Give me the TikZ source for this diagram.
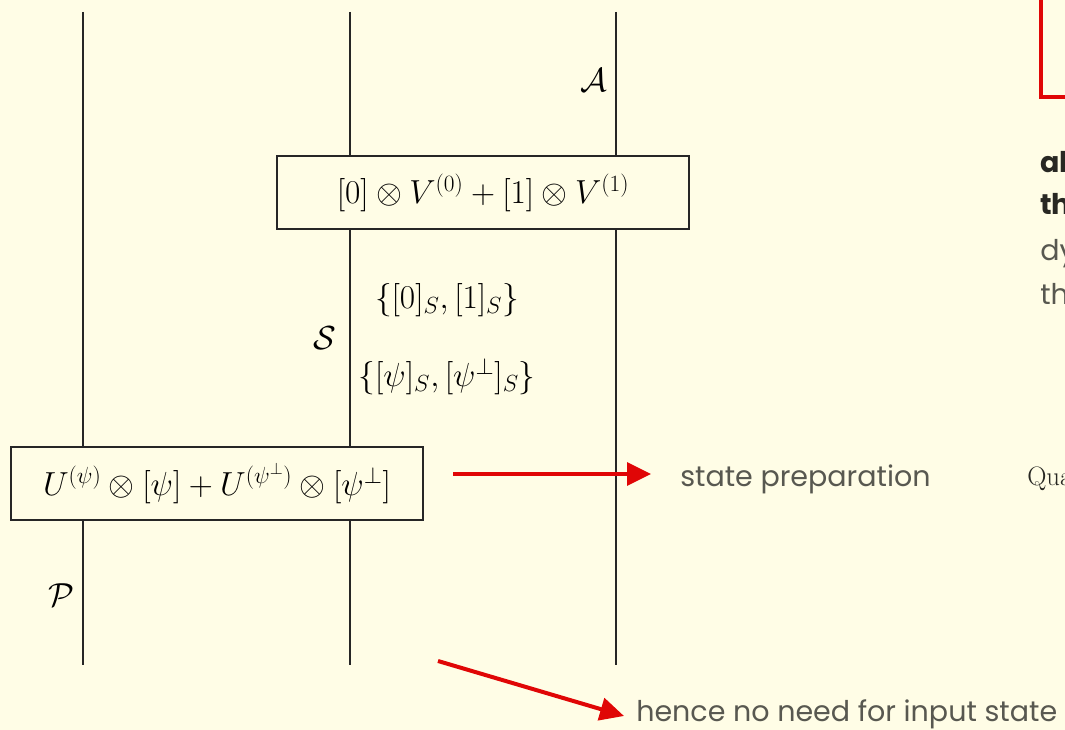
\RequirePackage{fix-cm}
\documentclass[tikz,border=0pt]{standalone}
\usepackage{amsmath}
\usepackage{fontspec}
\usetikzlibrary{arrows.meta}
\newfontfamily\popfont{Poppins}
\definecolor{bg}{RGB}{255,253,230}
\definecolor{redA}{RGB}{224,6,6}
\definecolor{grayT}{RGB}{88,88,80}
\definecolor{darkT}{RGB}{40,40,35}
\tikzset{
  wire/.style={line width=1.1pt, draw=black!85},
  opbox/.style={draw=black!85, line width=1.1pt, fill=bg, minimum width=309pt, minimum height=54.75pt, inner sep=0pt, font=\fontsize{25}{30}\selectfont},
  mathlbl/.style={inner sep=0pt, font=\fontsize{25}{30}\selectfont},
  redarrow/.style={draw=redA, line width=3pt, -{Triangle[length=18pt,width=17pt]}},
  slidetext/.style={font=\popfont\fontsize{21.4}{26}\selectfont, text=grayT, inner sep=0pt, anchor=west},
  boldtext/.style={font=\popfont\bfseries\fontsize{21.4}{26}\selectfont, text=darkT, inner sep=0pt, anchor=west}
}
\begin{document}
\begin{tikzpicture}[x=0.75pt,y=-0.75pt]
\fill[bg] (0,0) rectangle (1065,730);
\useasboundingbox (0,0) rectangle (1065,730);
\begin{scope}
\clip (0,0) rectangle (1065,730);
% wires
\coordinate (w1t) at (83,12);  \coordinate (w1b) at (83,665);
\coordinate (w2t) at (350,12); \coordinate (w2b) at (350,665);
\coordinate (w3t) at (616,12); \coordinate (w3b) at (616,665);
\draw[wire] (w1t) -- (w1b);
\draw[wire] (w2t) -- (w2b);
\draw[wire] (w3t) -- (w3b);
% boxes
\node[opbox] (V) at (483,192.5) {$[0]\otimes V^{(0)}+[1]\otimes V^{(1)}$};
\node[opbox] (U) at (217,483.5) {$U^{(\psi)}\otimes[\psi]+U^{(\psi^{\perp})}\otimes[\psi^{\perp}]$};
% labels
\node[mathlbl] (A) at (594,80) {$\mathcal{A}$};
\node[mathlbl] (S) at (325,338) {$\mathcal{S}$};
\node[mathlbl] (P) at (61,595) {$\mathcal{P}$};
\node[mathlbl] (b1) at (447,300) {$\{[0]_S,[1]_S\}$};
\node[mathlbl] (b2) at (447,377) {$\{[\psi]_S,[\psi^{\perp}]_S\}$};
% arrows and slide text
\node[slidetext] (sp) at (680,479) {state preparation};
\node[slidetext] (hn) at (636,714) {hence no need for input state};
\coordinate (a1s) at (453,474); \coordinate (a1e) at (651,474);
\coordinate (a2s) at (438,661); \coordinate (a2e) at (624,716);
\draw[redarrow] (a1s) -- (a1e);
\draw[redarrow] (a2s) -- (a2e);
% partial content at right edge
\draw[redA, line width=3pt] (1041,-10) rectangle (1120,97);
\node[boldtext] (t1) at (1040,162) {al};
\node[boldtext] (t2) at (1040,204) {th};
\node[slidetext] (t3) at (1040,254) {dy};
\node[slidetext] (t4) at (1040,294) {th};
\node[inner sep=0pt, anchor=west, font=\fontsize{20}{24}\selectfont, text=darkT] (q) at (1027,479) {Qua};
\end{scope}
\end{tikzpicture}
\end{document}
